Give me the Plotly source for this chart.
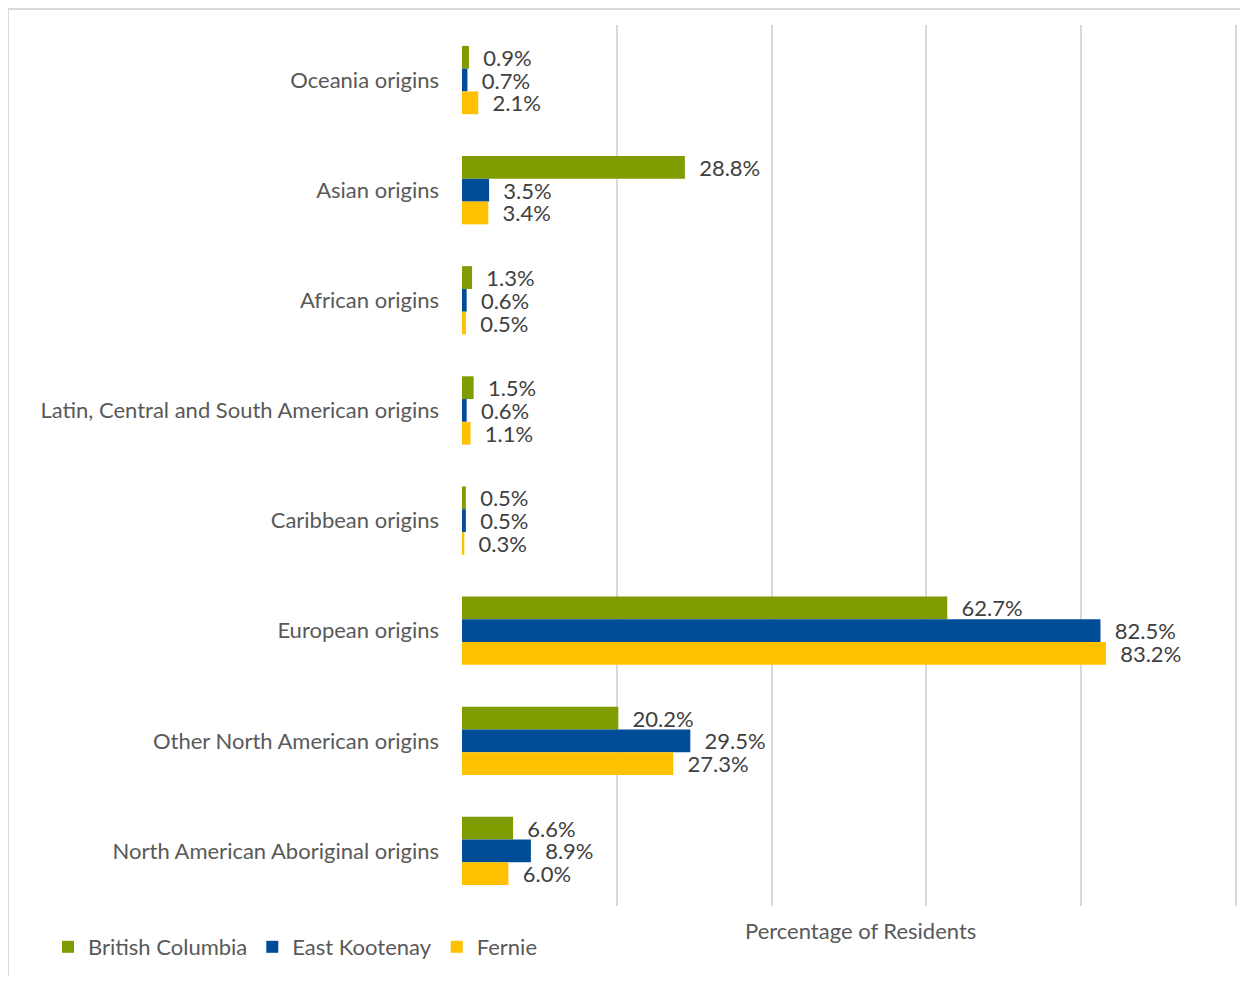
import plotly.graph_objects as go

categories = [
    "Oceania origins",
    "Asian origins",
    "African origins",
    "Latin, Central and South American origins",
    "Caribbean origins",
    "European origins",
    "Other North American origins",
    "North American Aboriginal origins",
]
series_names = ["British Columbia", "East Kootenay", "Fernie"]
bc = [0.9, 28.8, 1.3, 1.5, 0.5, 62.7, 20.2, 6.6]
ek = [0.7, 3.5, 0.6, 0.6, 0.5, 82.5, 29.5, 8.9]
fernie = [2.1, 3.4, 0.5, 1.1, 0.3, 83.2, 27.3, 6.0]
colors = ["#7F9C00", "#004C97", "#FFC000"]
axis_title = "Percentage of Residents"

# page is rendered with an 8px body margin; figure sized so the page fits the window
W, H = 1232, 968
ML, MR, MT, MB = 454, 1, 17, 70
PW, PH = W - ML - MR, H - MT - MB

def px_x(p):
    return (p - ML) / PW

def px_y(p):
    return (H - MB - p) / PH

FONT = "Lato"
TXT = "#595959"
FS = 22

fig = go.Figure()
for name, vals, col in zip(series_names, [bc, ek, fernie], colors):
    fig.add_trace(go.Bar(
        name=name, y=categories, x=vals, orientation="h",
        marker=dict(color=col, line=dict(width=0)),
        text=[f"\u00a0\u00a0{v:.1f}%" for v in vals],
        textposition="outside", cliponaxis=False, constraintext="none",
        textfont=dict(family=FONT, size=FS, color="#404040"),
        hoverinfo="skip",
    ))

fig.update_layout(
    width=W, height=H,
    margin=dict(l=ML, r=MR, t=MT, b=MB),
    paper_bgcolor="white", plot_bgcolor="white",
    barmode="group", bargap=0.38, bargroupgap=0,
    font=dict(family=FONT, size=FS, color=TXT),
    xaxis=dict(range=[0, 100.4], tick0=0, dtick=20, showgrid=True, gridcolor="#D9D9D9",
               gridwidth=2, zeroline=False, showticklabels=False, showline=False),
    yaxis=dict(autorange="reversed", showgrid=False, showline=False, ticks="",
               ticklabelstandoff=22, tickfont=dict(size=FS, color=TXT)),
    legend=dict(orientation="h", x=px_x(40), xanchor="left", y=px_y(939),
                yanchor="middle", font=dict(size=FS, color=TXT),
                traceorder="normal", itemwidth=30, bgcolor="rgba(0,0,0,0)"),
    showlegend=True,
    annotations=[
        dict(text=axis_title, xref="paper", yref="paper", x=px_x(852), y=px_y(922),
             xanchor="center", yanchor="middle", showarrow=False,
             font=dict(family=FONT, size=FS, color=TXT)),
    ],
    shapes=[
        dict(type="line", xref="paper", yref="paper", x0=px_x(0), x1=px_x(W + 5),
             y0=px_y(1), y1=px_y(1), line=dict(color="#D9D9D9", width=2)),
        dict(type="line", xref="paper", yref="paper", x0=px_x(0), x1=px_x(0),
             y0=px_y(1), y1=px_y(H + 5), line=dict(color="#D9D9D9", width=2)),
    ],
)

fig.write_html("out.html")
